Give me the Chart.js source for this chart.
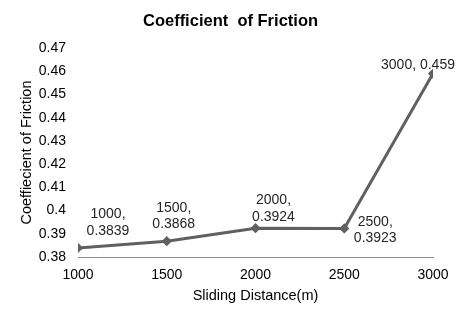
<!DOCTYPE html>
<html>
<head>
<meta charset="utf-8">
<script src="https://cdn.jsdelivr.net/npm/chart.js@4"></script>
<style>
  html, body { margin: 0; padding: 0; background: #fff; }
  #wrap { width: 461px; height: 316px; }
</style>
</head>
<body>
<div id="wrap"><canvas id="chart-cof" width="461" height="316"></canvas></div>
<script>
// datos
const distances = [1000, 1500, 2000, 2500, 3000];
const cofValues = [0.3839, 0.3868, 0.3924, 0.3923, 0.459];
const xTicks = [1000, 1500, 2000, 2500, 3000];
const yTicks = [0.38, 0.39, 0.40, 0.41, 0.42, 0.43, 0.44, 0.45, 0.46, 0.47];
const chartTitle = 'Coefficient  of Friction';

Chart.defaults.font.family = '"Liberation Sans", Arial, sans-serif';

// posicion de cada etiqueta respecto a su punto (dx, dy de cada linea)
const _labelPos = [
    { dx: 30, lines: [-34, -17] },
    { dx: 7,  lines: [-33, -17] },
    { dx: 18, lines: [-28, -11] },
    { dx: 31, lines: [-6, 10] },
    { dx: -15, lines: [-8] }
];

// titulo centrado en el lienzo + etiquetas de los puntos
const chartDecor = {
    id: 'chartDecor',
    afterDatasetsDraw(chart) {
        const ctx = chart.ctx;
        const meta = chart.getDatasetMeta(0);
        ctx.save();
        ctx.textAlign = 'center';
        ctx.textBaseline = 'middle';

        ctx.font = 'bold 16.5px "Liberation Sans", Arial, sans-serif';
        ctx.fillStyle = '#000';
        ctx.fillText(chartTitle, chart.width / 2, 21);

        ctx.font = '14px "Liberation Sans", Arial, sans-serif';
        ctx.fillStyle = '#262626';
        meta.data.forEach((pt, i) => {
            const pos = _labelPos[i];
            const txt = pos.lines.length === 1
                ? [distances[i] + ', ' + cofValues[i]]
                : [distances[i] + ',', String(cofValues[i])];
            txt.forEach((t, j) => ctx.fillText(t, pt.x + pos.dx, pt.y + pos.lines[j]));
        });
        ctx.restore();
    }
};

const ctx = document.getElementById('chart-cof').getContext('2d');
new Chart(ctx, {
    type: 'line',
    data: {
        datasets: [{
            data: distances.map((d, i) => ({ x: d, y: cofValues[i] })),
            borderColor: '#606060',
            backgroundColor: '#606060',
            borderWidth: 3,
            pointStyle: 'rectRot',
            pointRadius: 3,
            tension: 0
        }]
    },
    options: {
        responsive: false,
        animation: false,
        layout: { padding: { left: 0, right: 28, top: 48, bottom: 0 } },
        plugins: {
            legend: { display: false },
            tooltip: { enabled: false },
            title: { display: false }
        },
        scales: {
            x: {
                type: 'linear',
                min: xTicks[0],
                max: xTicks[xTicks.length - 1],
                afterBuildTicks: s => { s.ticks = xTicks.map(v => ({ value: v })); },
                afterFit: s => { s.height = 59; },
                grid: { display: false, drawTicks: false },
                border: { display: true, color: '#8c8c8c', width: 1 },
                ticks: { color: '#000', font: { size: 14 }, padding: 10, maxRotation: 0, callback: v => String(v) },
                title: {
                    display: true,
                    text: 'Sliding Distance(m)',
                    color: '#000',
                    font: { size: 14.5 },
                    padding: { top: 0, bottom: 11 }
                }
            },
            y: {
                min: yTicks[0],
                max: yTicks[yTicks.length - 1],
                afterBuildTicks: s => { s.ticks = yTicks.map(v => ({ value: v })); },
                afterFit: s => { s.width = 78; },
                grid: { display: false, drawTicks: false },
                border: { display: false },
                ticks: {
                    color: '#000',
                    font: { size: 14 },
                    padding: 12,
                    callback: v => String(Number(v.toFixed(2)))
                },
                title: {
                    display: true,
                    text: 'Coeffiecient of Friction',
                    color: '#000',
                    font: { size: 14.5 },
                    padding: { top: 18, bottom: 0 }
                }
            }
        }
    },
    plugins: [chartDecor]
});
</script>
</body>
</html>
